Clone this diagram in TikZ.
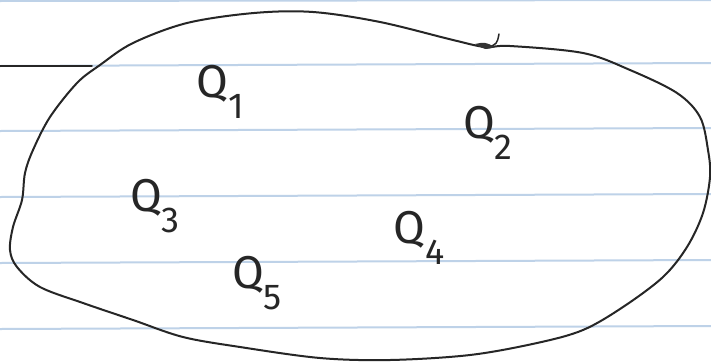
\documentclass[tikz,border=0pt]{standalone}
\usepackage{fontspec}
\setmainfont{Fira Sans}
\usepackage{tikz}
\usetikzlibrary{positioning}

\definecolor{ruleblue}{RGB}{190,210,232}
\newcommand{\qsub}[1]{\fontsize{46}{50}\selectfont Q\raisebox{-0.45em}{\fontsize{36}{40}\selectfont #1}}

\begin{document}
\begin{tikzpicture}[
    x=1pt, y=-1pt,
    rule/.style={ruleblue, line width=2pt},
    pen/.style={black!85, line width=2pt, line cap=round, line join=round},
    qlabel/.style={inner sep=0pt, text=black!85}
  ]
  \useasboundingbox (0,0) rectangle (711,362);
  \fill[white] (0,0) rectangle (711,362);

  % ---- ruled paper ----
  \draw[rule] (0,1) -- (711,0);
  \foreach \y in {66,131,197,263,329}
    \draw[rule] (0,\y) -- (711,\y-3);
  \coordinate (edge) at (0,66);
  \coordinate (meet) at (92,66);
  \draw[pen, line width=1.5pt] (edge) -- (meet);

  % ---- set ----
  \draw[pen] plot[smooth cycle, tension=0.55] coordinates {
    (313,12) (380,22) (453,40) (485,47) (510,46) (583,53) (630,70)
    (677,93) (700,117) (708,150) (710,177) (703,213) (687,247)
    (663,277) (623,307) (583,330) (537,343) (470,355) (390,360)
    (320,358) (240,347) (183,337) (133,320) (83,303) (40,287)
    (17,267) (10,250) (13,227) (22,200) (25,173) (33,150) (50,117)
    (77,83) (100,65) (133,43) (187,23) (254,13)};
  % scribble on the top edge
  \draw[pen, line width=1.5pt] (499,34) .. controls (497,44) .. (487,48);
  \fill[black!80] (475,44) .. controls (485,42) .. (495,47) .. controls (485,50) .. (475,44);

  % ---- elements ----
  \node[qlabel] (q1) at (220,92)  {\qsub{1}};
  \node[qlabel] (q2) at (488,133) {\qsub{2}};
  \node[qlabel] (q3) at (155,206) {\qsub{3}};
  \node[qlabel] (q4) at (419,238) {\qsub{4}};
  \node[qlabel] (q5) at (257,283) {\qsub{5}};
\end{tikzpicture}
\end{document}
